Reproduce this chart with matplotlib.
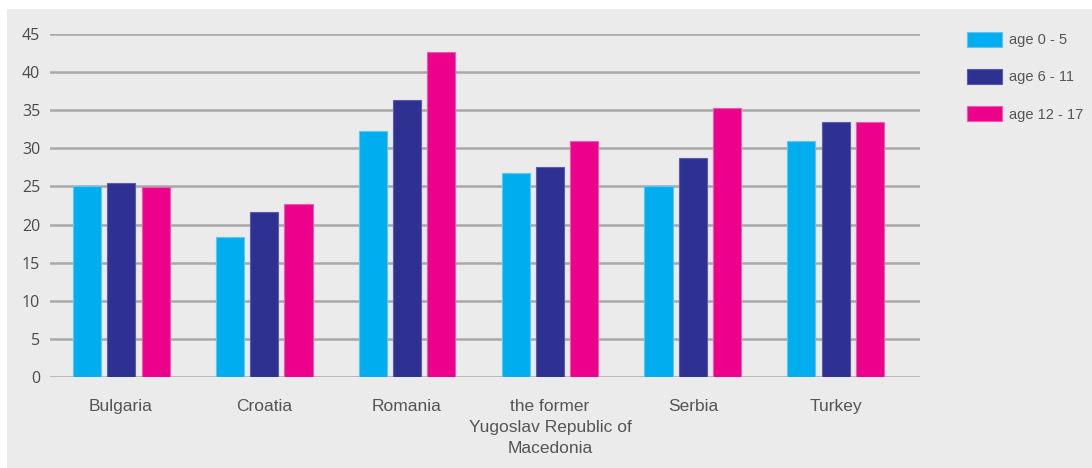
import matplotlib
matplotlib.use("Agg")
import matplotlib.pyplot as plt
import numpy as np
from matplotlib.patches import Rectangle

categories = ["Bulgaria", "Croatia", "Romania",
              "the former\nYugoslav Republic of\nMacedonia", "Serbia", "Turkey"]
series_names = ["age 0 - 5", "age 6 - 11", "age 12 - 17"]
age_0_5 = [25.1, 18.4, 32.3, 26.8, 25.1, 31.0]
age_6_11 = [25.5, 21.6, 36.4, 27.5, 28.7, 33.5]
age_12_17 = [24.9, 22.7, 42.6, 31.0, 35.3, 33.5]
yticks = [0, 5, 10, 15, 20, 25, 30, 35, 40, 45]

colors = ["#00aeef", "#2e3192", "#ec008c"]
edge_colors = ["#5cc8f2", "#5a5ca8", "#f05aac"]
bg = "#ebebeb"
text_color = "#555555"

W, H = 1092, 468
fig = plt.figure(figsize=(W / 100, H / 100), dpi=100)
fig.patch.set_facecolor("white")
fig.add_artist(Rectangle((7 / W, 0), 1 - 7 / W, 1 - 9 / H, transform=fig.transFigure,
                         facecolor=bg, edgecolor="none", zorder=0))

ax = fig.add_axes([50 / W, 1 - 377 / H, (920 - 50) / W, (377 - 34) / H])
ax.set_facecolor(bg)
ax.patch.set_alpha(0)

x = np.arange(len(categories))
step = 0.241
width = 0.196
for i, (vals, name) in enumerate(zip([age_0_5, age_6_11, age_12_17], series_names)):
    ax.bar(x + (i - 1) * step, vals, width, color=colors[i], edgecolor=edge_colors[i],
           linewidth=0.8, label=name, zorder=3)

ax.set_ylim(0, 45)
ax.set_xlim(-0.497, 5.588)
ax.set_yticks(yticks)
ax.set_yticklabels([str(v) for v in yticks], fontfamily="Open Sans", fontsize=11.5,
                   color="#4a4a4a")
ax.yaxis.grid(True, color="#a8a8a8", linewidth=1.8, zorder=1)
ax.set_axisbelow(True)
for s in ax.spines.values():
    s.set_visible(False)
ax.tick_params(axis="y", length=0, pad=7)
ax.tick_params(axis="x", length=0, pad=16)
ax.set_xticks(x)
ax.set_xticklabels(categories, fontfamily="Liberation Sans", fontsize=12.5,
                   color=text_color, linespacing=1.5)

leg = fig.legend(loc="upper left", bbox_to_anchor=(954 / W, 1 - 19 / H), frameon=False,
                 handlelength=2.4, handleheight=1.16, handletextpad=0.45, labelspacing=1.5,
                 prop={"family": "Liberation Sans", "size": 10.5})
for t in leg.get_texts():
    t.set_color(text_color)

fig.savefig("out.png", dpi=100, facecolor=fig.get_facecolor())
